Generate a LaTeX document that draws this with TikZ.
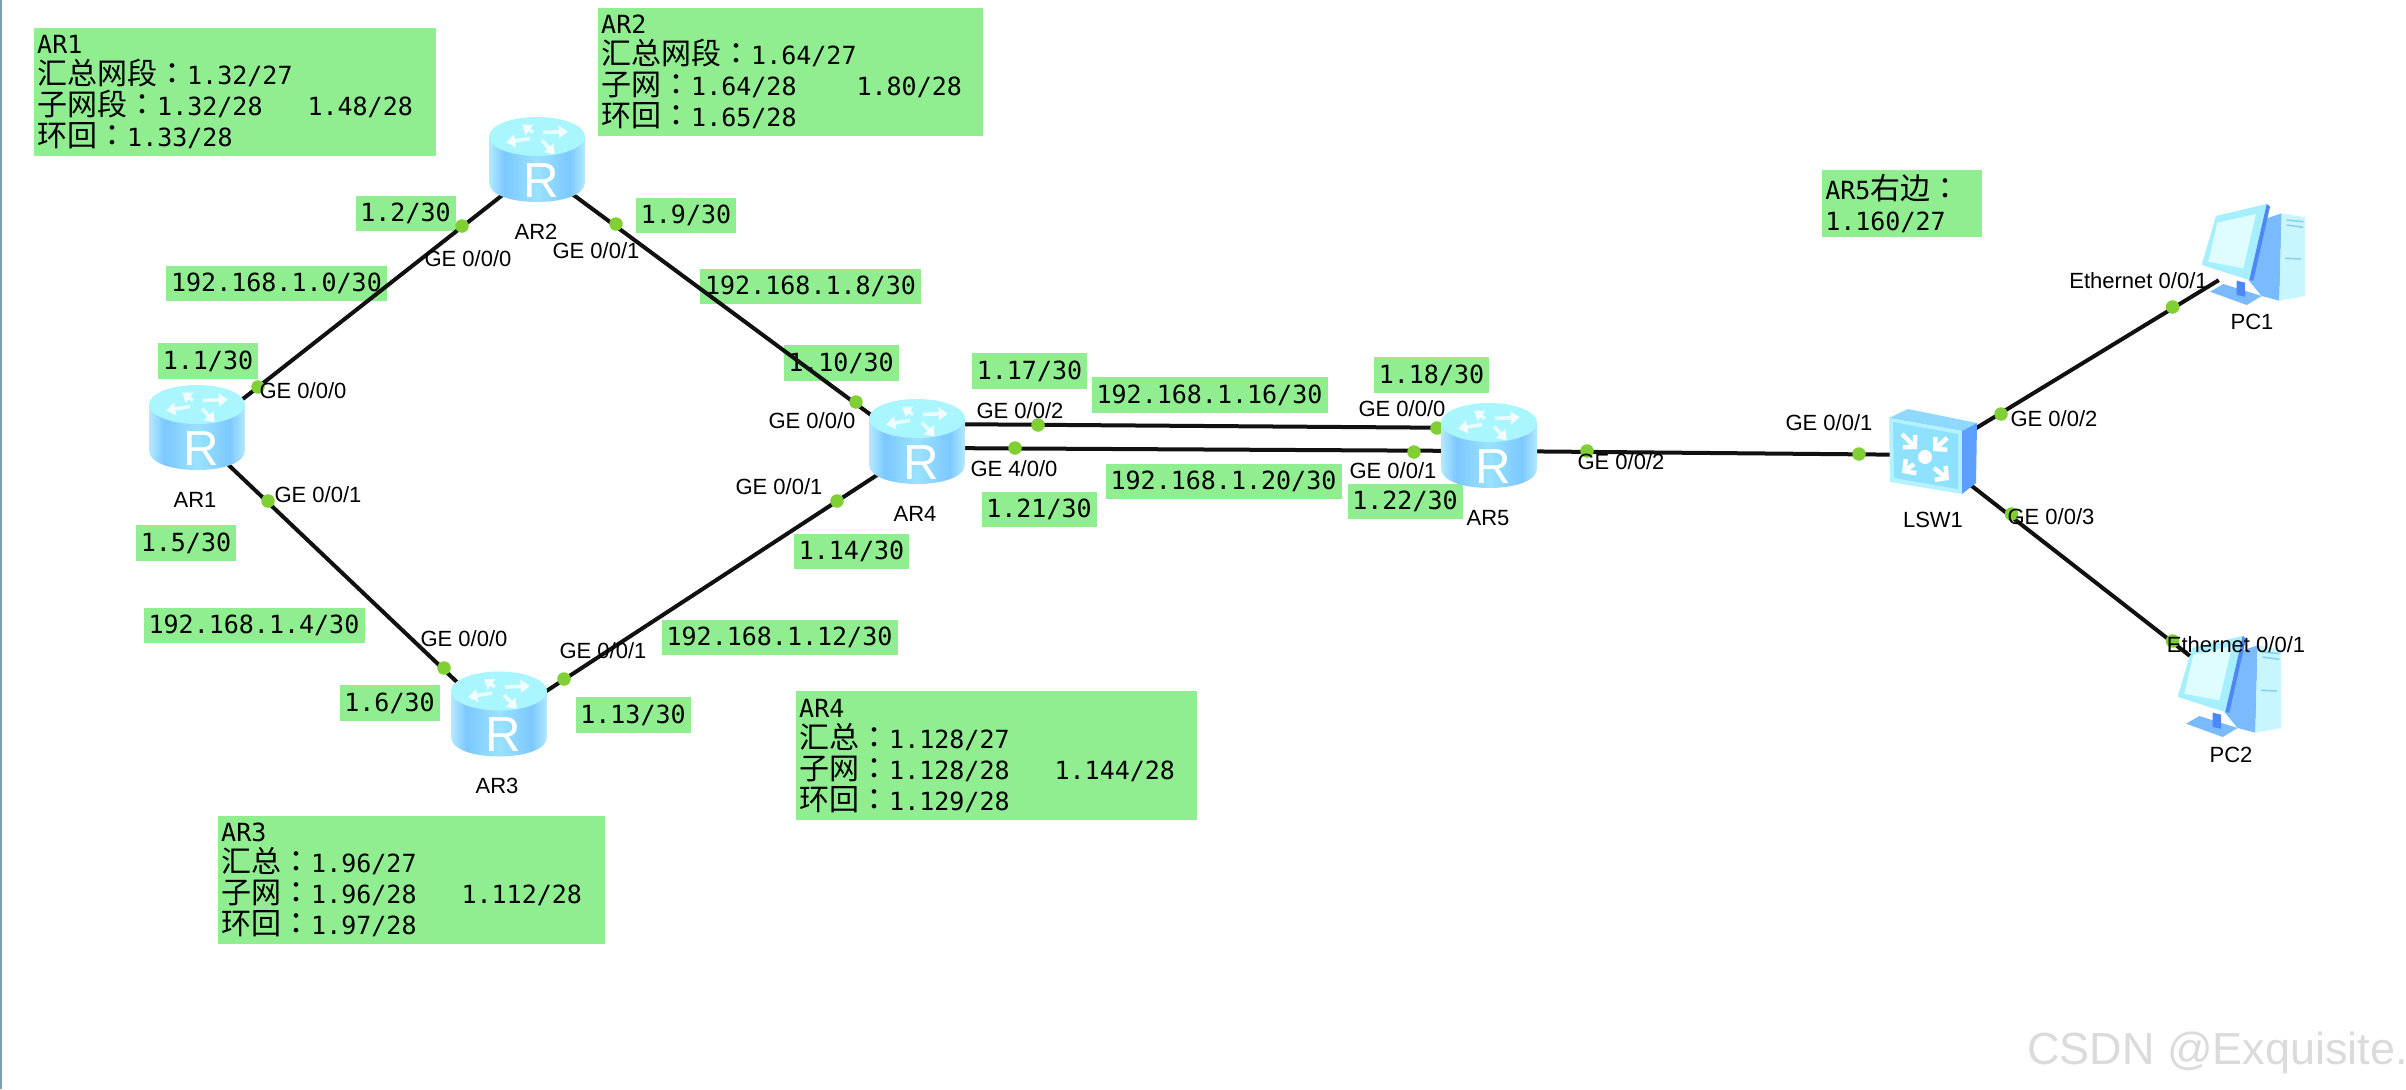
\documentclass[tikz,border=0pt]{standalone}
\usepackage{fontspec}
\usetikzlibrary{arrows.meta}
\setmainfont{DejaVu Sans Mono}
\newfontfamily\arl{Liberation Sans}
\newfontfamily\cjk{Noto Sans CJK SC}
\newfontfamily\cjkt{Noto Sans CJK TC}
\newlength\px \setlength\px{0.03cm}
\newcommand\zh[1]{{\cjk\fontsize{25.6}{26.46}\selectfont #1}}
\newcommand\zc{{\cjkt\fontsize{25.6}{26.46}\selectfont ：}}
\definecolor{tagg}{HTML}{90EE90}
\definecolor{dotg}{HTML}{7FCF35}
\definecolor{wire}{HTML}{111111}
\definecolor{edgeline}{HTML}{7F9DB5}
\definecolor{rbA}{HTML}{B4EAFF}
\definecolor{rbB}{HTML}{7CC8FF}
\definecolor{rbC}{HTML}{9BE2FF}
\definecolor{rtop}{HTML}{A9F6FF}
\definecolor{swtop}{HTML}{8FD8FF}
\definecolor{swfront}{HTML}{B5F2FF}
\definecolor{swinner}{HTML}{8FE2FF}
\definecolor{swside}{HTML}{5C9FFF}
\definecolor{pctowerside}{HTML}{7ABBFF}
\definecolor{pctower}{HTML}{C8F6FF}
\definecolor{pcvent}{HTML}{86D0F0}
\definecolor{pcbezel}{HTML}{A6EFFF}
\definecolor{pcscreen}{HTML}{DFFDFF}
\definecolor{pcdark}{HTML}{4D88F5}
\pgfdeclarehorizontalshading{rbody}{100bp}{color(0bp)=(rbA); color(25bp)=(rbA); color(33bp)=(rbB); color(50bp)=(rbC); color(67bp)=(rbB); color(75bp)=(rbA); color(100bp)=(rbA)}
\tikzset{
  tagbase/.style={fill=tagg,inner sep=0pt,minimum height=35.5\px,font=\fontsize{21.34}{26.46}\selectfont},
  tagsix/.style={tagbase,minimum width=100\px},
  tagseven/.style={tagbase,minimum width=115\px},
  tagnet/.style={tagbase,minimum width=221\px},
  tagnetl/.style={tagbase,minimum width=236\px},
  note/.style={fill=tagg,anchor=north west,inner xsep=3\px,inner ysep=0pt,align=left,
     font=\fontsize{21.34}{26.46}\selectfont,execute at begin node={\lineskiplimit=-100pt\relax}},
  port/.style={inner sep=0pt,text=black,font=\arl\fontsize{18.78}{22}\selectfont},
  hub/.style={inner sep=0pt,minimum size=40\px},
  endpt/.style={inner sep=0pt,minimum size=0pt},
  link/.style={draw=wire,line width=4\px},
  portdot/.style={circle,fill=dotg,inner sep=0pt,minimum size=13.5\px},
  mark arrow/.style={white,line width=3.6\px,opacity=.75,-{Triangle[length=8pt,width=11pt]}},
  sw arrow/.style={white,line width=4.5\px,-{Straight Barb[length=7pt,width=15pt]}},
}
\newcommand\routericon[3]{%
  \begin{scope}[shift={(#2,#3)}]
    \shade[shading=rbody] (-48,-23) -- (-48,23) .. controls (-48,49) and (48,49) .. (48,23) -- (48,-23) -- cycle;
    \fill[rtop] (0,-23) ellipse [x radius=48,y radius=19.5];
    \draw[mark arrow] (-4,-27) -- (-15,-35);
    \draw[mark arrow] (6,-27) -- (31,-28);
    \draw[mark arrow] (-7,-21) -- (-31,-17);
    \draw[mark arrow] (5,-19) -- (18,-5);
    \node[inner sep=0pt,text=white,font=\arl\fontsize{42}{44}\selectfont] (#1R) at (4,21) {R};
  \end{scope}}
\newcommand\pcicon[1]{%
  \begin{scope}[shift={#1},scale=1/3]
    \fill[pctowerside] (230,85) -- (275,70) -- (268,332) -- (215,318) -- (175,270) -- cycle;
    \fill[pctower] (275,70) -- (345,82) -- (345,318) -- (268,332) -- cycle;
    \draw[pcvent,line width=1.5\px] (290,90) -- (340,95) (290,105) -- (340,112) (285,205) -- (333,207);
    \fill[pctowerside] (60,305) -- (100,282) -- (215,318) -- (170,345) -- cycle;
    \fill[pcdark] (140,272) -- (165,278) -- (165,320) -- (140,315) -- cycle;
    \fill[pcbezel] (78,78) -- (230,42) -- (178,270) -- (35,225) -- cycle;
    \fill[pcscreen] (82,98) -- (198,72) -- (160,235) -- (55,215) -- cycle;
    \fill[pcdark] (230,42) -- (240,50) -- (190,272) -- (178,270) -- cycle;
  \end{scope}}
\begin{document}
\begin{tikzpicture}[x=0.03cm,y=-0.03cm]
\useasboundingbox (0,0) rectangle (2406,1089);
\fill[white] (0,0) rectangle (2406,1089);
\fill[edgeline] (0,0) rectangle (1.6,1089);
% PC icons lie under the links
\pcicon{(2190,190)}
\pcicon{(2166,622)}
% address tags
\node[tagsix] (t12) at (405.5,213.5) {1.2/30};
\node[tagsix] (t19) at (686,215.5) {1.9/30};
\node[tagnet] (n0) at (276.5,283.5) {192.168.1.0/30};
\node[tagnet] (n8) at (810.5,286.5) {192.168.1.8/30};
\node[tagsix] (t11) at (208,361) {1.1/30};
\node[tagseven] (t110) at (841,363) {1.10/30};
\node[tagseven] (t117) at (1029.5,371) {1.17/30};
\node[tagnetl] (n16) at (1209.5,395) {192.168.1.16/30};
\node[tagseven] (t118) at (1431.5,375) {1.18/30};
\node[tagnetl] (n20) at (1223.5,481.5) {192.168.1.20/30};
\node[tagseven] (t121) at (1039,509.5) {1.21/30};
\node[tagseven] (t122) at (1405,501.5) {1.22/30};
\node[tagseven] (t114) at (851.5,551.5) {1.14/30};
\node[tagnetl] (n12) at (779.5,637.5) {192.168.1.12/30};
\node[tagsix] (t15) at (186,543) {1.5/30};
\node[tagnet] (n4) at (254,625.5) {192.168.1.4/30};
\node[tagsix] (t16) at (389.5,703) {1.6/30};
\node[tagseven] (t113) at (633,715) {1.13/30};
% note boxes
\node[note,minimum width=402\px,minimum height=128\px,text width=396\px] (noteA) at (34,28) {AR1\\\zh{汇总网段}\zc 1.32/27\\\zh{子网段}\zc 1.32/28\hspace{45\px}1.48/28\\\zh{环回}\zc 1.33/28};
\node[note,minimum width=385\px,minimum height=128\px,text width=379\px] (noteB) at (598,8) {AR2\\\zh{汇总网段}\zc 1.64/27\\\zh{子网}\zc 1.64/28\hspace{60\px}1.80/28\\\zh{环回}\zc 1.65/28};
\node[note,minimum width=387\px,minimum height=128\px,text width=381\px] (noteC) at (218,816) {AR3\\\zh{汇总}\zc 1.96/27\\\zh{子网}\zc 1.96/28\hspace{45\px}1.112/28\\\zh{环回}\zc 1.97/28};
\node[note,minimum width=401\px,minimum height=129\px,text width=395\px] (noteD) at (796,691) {AR4\\\zh{汇总}\zc 1.128/27\\\zh{子网}\zc 1.128/28\hspace{45\px}1.144/28\\\zh{环回}\zc 1.129/28};
\node[note,minimum width=160\px,minimum height=67\px,text width=154\px] (noteE) at (1822,170) {AR5\zh{右边}\zc\\1.160/27};
% device anchors and links
\node[hub] (ar1) at (197,435) {};
\node[hub] (ar2) at (537,168) {};
\node[hub] (ar3) at (499,722) {};
\node[hub] (ar4) at (917,449) {};
\node[hub] (ar5) at (1489,451) {};
\node[hub] (sw1) at (1932,455) {};
\node[endpt] (pc1) at (2219,280) {};
\node[endpt] (pc2) at (2190,656) {};
\coordinate (ar4a) at (930,424);
\coordinate (ar5a) at (1480,428);
\coordinate (ar4b) at (930,448);
\coordinate (ar5b) at (1480,451);
\draw[link] (ar1) -- (ar2);
\draw[link] (ar1) -- (ar3);
\draw[link] (ar2) -- (ar4);
\draw[link] (ar3) -- (ar4);
\draw[link] (ar4a) -- (ar5a);
\draw[link] (ar4b) -- (ar5b);
\draw[link] (ar5) -- (sw1);
\draw[link] (sw1) -- (pc1);
\draw[link] (sw1) -- (pc2);
% interface dots
\node[portdot] (d1) at (462,226) {};
\node[portdot] (d2) at (616,224) {};
\node[portdot] (d3) at (258,387) {};
\node[portdot] (d4) at (268,501) {};
\node[portdot] (d5) at (444,668) {};
\node[portdot] (d6) at (564,679) {};
\node[portdot] (d7) at (837,501) {};
\node[portdot] (d8) at (856,402) {};
\node[portdot] (d9) at (1038,425) {};
\node[portdot] (d10) at (1015,448) {};
\node[portdot] (d11) at (1437,428) {};
\node[portdot] (d12) at (1414,452) {};
\node[portdot] (d13) at (1587,451) {};
\node[portdot] (d14) at (1859,454) {};
\node[portdot] (d15) at (2001,414) {};
\node[portdot] (d16) at (2172.6,307) {};
\node[portdot] (d17) at (2011.5,514) {};
\node[portdot] (d18) at (2172.6,641) {};
% routers
\routericon{iconA}{197}{427.5}
\routericon{iconB}{537}{159.5}
\routericon{iconC}{499}{714}
\routericon{iconD}{917}{441.5}
\routericon{iconE}{1489}{445.5}
% switch
\fill[swtop] (1889,418) -- (1908,409) -- (1977,423) -- (1962,431) -- cycle;
\fill[swfront] (1889,418) -- (1962,431) -- (1962,494) -- (1890,482) -- cycle;
\fill[swinner] (1893,422) -- (1958,434) -- (1958,489) -- (1894,478) -- cycle;
\fill[swside] (1962,431) -- (1977,423) -- (1976,483) -- (1962,494) -- cycle;
\fill[white] (1925,457) circle [radius=7];
\draw[sw arrow] (1902,434) -- (1917,449);
\draw[sw arrow] (1947,438) -- (1933,451);
\draw[sw arrow] (1914,464) -- (1902,473);
\draw[sw arrow] (1934,468) -- (1949,480);
% device labels
\node[port] (lA) at (195,500) {AR1};
\node[port] (lB) at (536,232) {AR2};
\node[port] (lC) at (497,786) {AR3};
\node[port] (lD) at (915,514) {AR4};
\node[port] (lE) at (1488,518) {AR5};
\node[port] (lS) at (1933,520) {LSW1};
\node[port] (lP) at (2252,322) {PC1};
\node[port] (lQ) at (2231,755) {PC2};
% interface labels
\node[port] (p1) at (468,259) {GE 0/0/0};
\node[port] (p2) at (596,251) {GE 0/0/1};
\node[port] (p3) at (303,391) {GE 0/0/0};
\node[port] (p4) at (318,495) {GE 0/0/1};
\node[port] (p5) at (812,421) {GE 0/0/0};
\node[port] (p6) at (779,487) {GE 0/0/1};
\node[port] (p7) at (1020,411) {GE 0/0/2};
\node[port] (p8) at (1014,469) {GE 4/0/0};
\node[port] (p9) at (1402,409) {GE 0/0/0};
\node[port] (p10) at (1393,471) {GE 0/0/1};
\node[port] (p11) at (1621,462) {GE 0/0/2};
\node[port] (p12) at (464,639) {GE 0/0/0};
\node[port] (p13) at (603,651) {GE 0/0/1};
\node[port] (p14) at (1829,423) {GE 0/0/1};
\node[port] (p15) at (2054,419) {GE 0/0/2};
\node[port] (p16) at (2051,517) {GE 0/0/3};
\node[port] (p17) at (2138.5,281) {Ethernet 0/0/1};
\node[port] (p18) at (2236,645) {Ethernet 0/0/1};
% watermark
\node[inner sep=0pt,anchor=base west,text=black!14,font=\arl\fontsize{38.4}{40}\selectfont] (wm) at (2027,1064) {CSDN @Exquisite.};
\end{tikzpicture}
\end{document}
